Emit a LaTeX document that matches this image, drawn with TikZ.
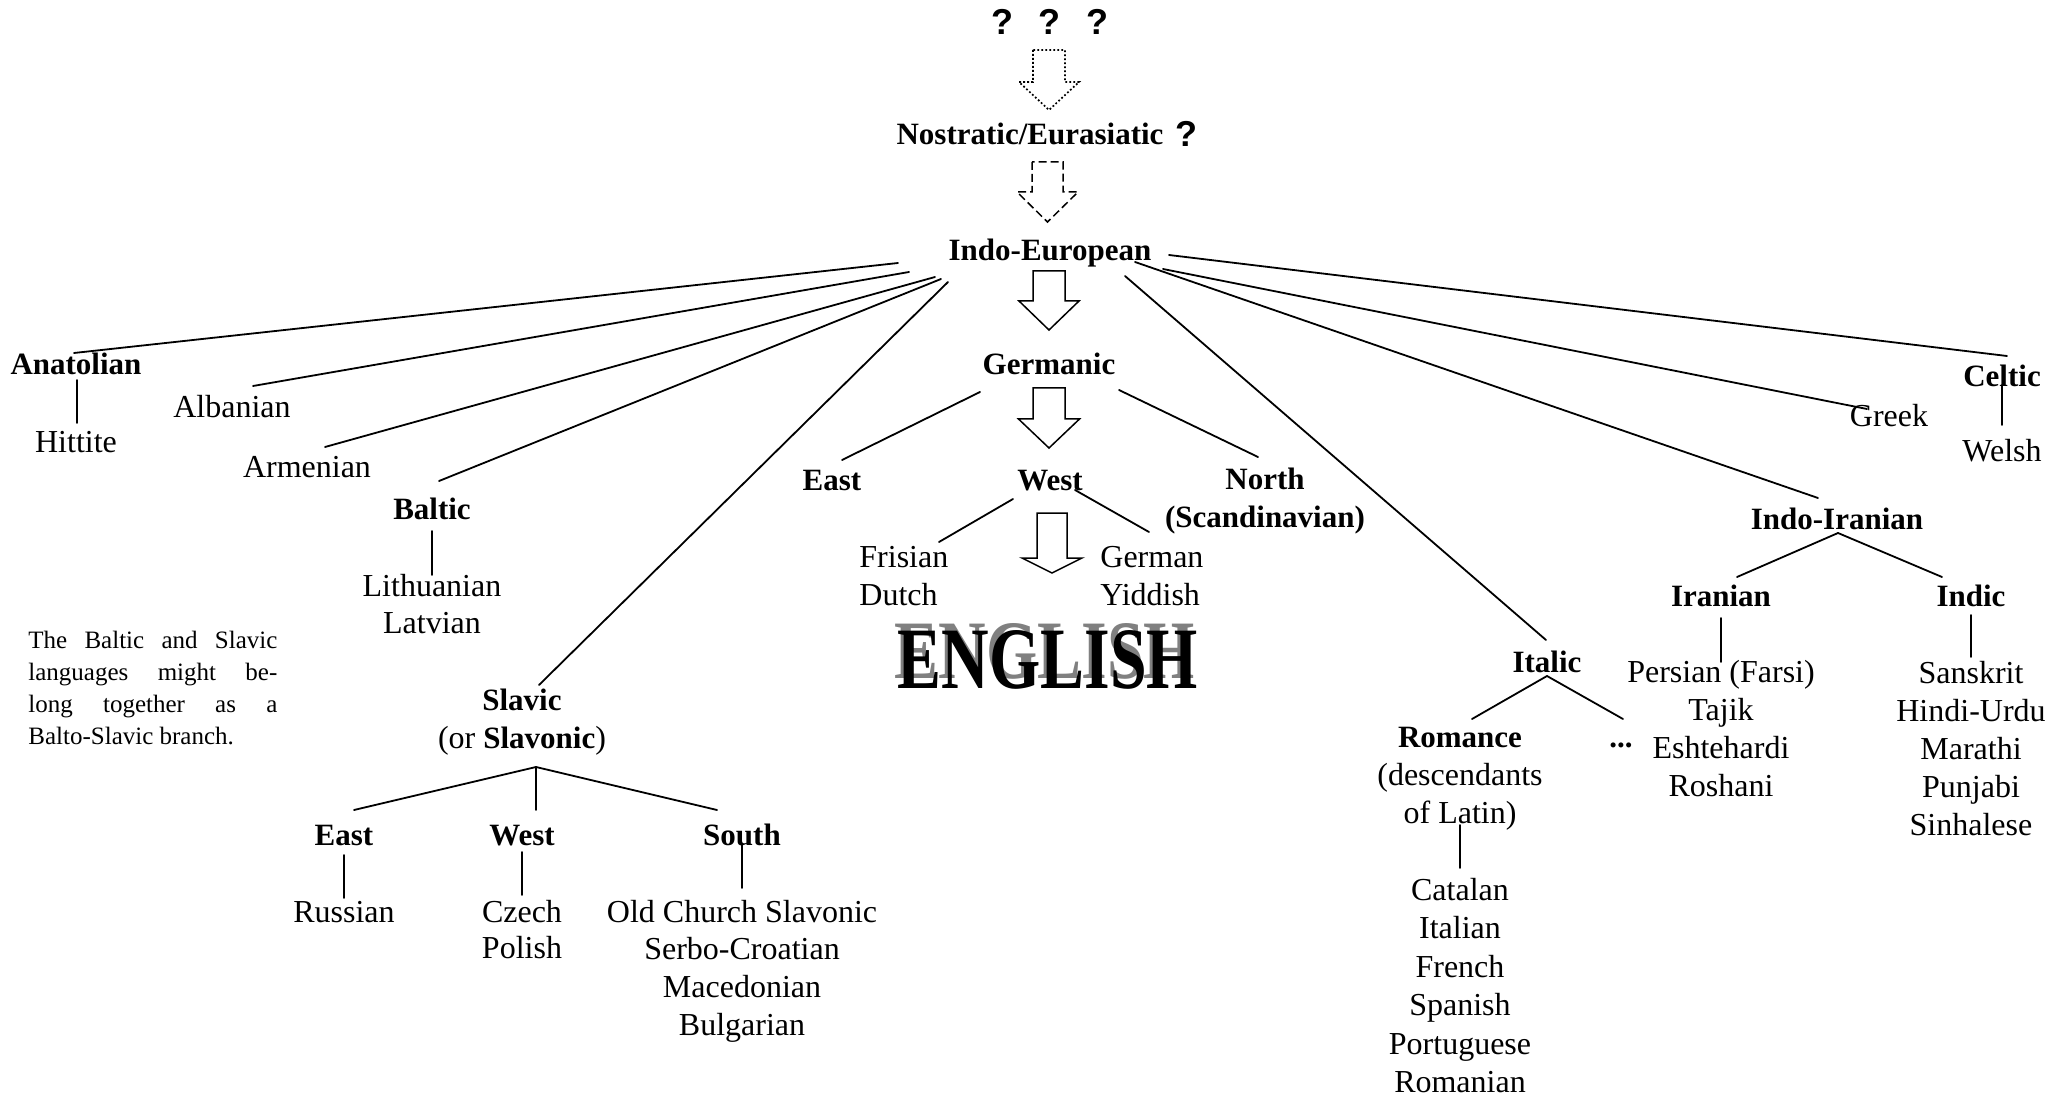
\documentclass[tikz,border=0pt]{standalone}
\usepackage{fontspec}
\setmainfont{Liberation Serif}
\newfontfamily\qfont{Liberation Sans}
\usetikzlibrary{calc}

% straight branch between two nodes, each end given as an offset from an anchor
\newcommand\branchline[6]{\draw[branch] ($(#1)+(#2,#3)$) -- ($(#4)+(#5,#6)$);}
% hollow block arrow: style, centre x, shaft top, head base, tip, half shaft, half head
\newcommand\blockarrow[7]{%
  \draw[#1] (#2-#6,#3) -- (#2-#6,#4) -- (#2-#7,#4) -- (#2,#5)
            -- (#2+#7,#4) -- (#2+#6,#4) -- (#2+#6,#3) -- cycle;}

\tikzset{
  lang/.style={anchor=base, inner sep=0pt, font=\fontsize{16}{19}\selectfont},
  langw/.style={anchor=base west, inner sep=0pt, font=\fontsize{16}{19}\selectfont},
  group/.style={anchor=base, inner sep=0pt, font=\fontsize{15.5}{18}\selectfont\bfseries},
  qmark/.style={anchor=base, inner sep=0pt, font=\qfont\fontsize{18}{20}\selectfont\bfseries},
  branch/.style={line width=0.9pt, line cap=round},
  arrowbox/.style={line width=0.75pt, fill=white, line join=miter},
  note/.style={anchor=base west, inner sep=0pt, text width=124.5pt, align=justify,
               font=\fontsize{12.5}{16}\selectfont},
}

\begin{document}
\begin{tikzpicture}[x=0.5pt, y=-0.5pt]
\path[use as bounding box, fill=white] (0,0) rectangle (2072,1096);

% ---- top of the tree ----
\node[qmark] (q1) at (1002,35) {?};
\node[qmark] (q2) at (1049,35) {?};
\node[qmark] (q3) at (1097,35) {?};
\blockarrow{arrowbox, line width=0.85pt, dash pattern=on 0.9pt off 1.1pt}{1049}{50}{82}{110}{16}{30}
\node[group] (nost) at (1030,145) {Nostratic/Eurasiatic};
\node[qmark] (nostq) at (1186,147) {?};
\blockarrow{arrowbox, dash pattern=on 4pt off 2pt}{1047.5}{162}{192}{222}{15.5}{30.5}
\node[group] (ie) at (1050,261) {Indo-European};
\blockarrow{arrowbox}{1049}{271}{301}{330}{16}{30}

% ---- Germanic ----
\node[group] (germ) at (1049,375) {Germanic};
\blockarrow{arrowbox}{1049}{388}{419}{448}{16}{30.5}
\node[group] (geast) at (832,490) {East};
\node[group] (gwest) at (1050,490) {West};
\node[group] (gnorth) at (1265,489) {North};
\node[group] (scand) at (1265,527) {(Scandinavian)};
\blockarrow{arrowbox}{1052}{513}{558}{573}{15}{30}
\node[langw] (fris) at (859,567) {Frisian};
\node[langw] (dutch) at (859,605) {Dutch};
\node[langw] (german) at (1100,567) {German};
\node[langw] (yidd) at (1100,605) {Yiddish};
\node[anchor=base, inner sep=0pt, text=black!50] (engsh) at (1045,678)
  {\resizebox{150pt}{27.5pt}{\bfseries ENGLISH}};
\node[anchor=base, inner sep=0pt] (eng) at (1048,688)
  {\resizebox{150pt}{29pt}{\bfseries ENGLISH}};

\branchline{germ.base}{-69}{17}{geast.base}{10}{-30}
\branchline{germ.base}{70}{15}{gnorth.base}{-7}{-32}
\branchline{gwest.base}{-37}{9}{fris.base west}{80}{-25}
\branchline{gwest.base}{25}{0}{german.base west}{49}{-35}

% ---- left branches ----
\node[group] (anat) at (76,375) {Anatolian};
\node[lang] (hitt) at (76,452) {Hittite};
\node[lang] (alb) at (232,418) {Albanian};
\node[lang] (arm) at (307,478) {Armenian};
\node[group] (balt) at (432,519) {Baltic};
\node[lang] (lith) at (432,596) {Lithuanian};
\node[lang] (latv) at (432,633) {Latvian};
\node[note] (bsnote) at (28,648)
  {The Baltic and Slavic\linebreak languages might be-\linebreak long together as a\linebreak Balto-Slavic branch.};

\node[group] (slav) at (522,710) {Slavic};
\node[lang] (slav2) at (522,748) {(or {\fontsize{15.5}{18}\selectfont\bfseries Slavonic})};
\node[group] (seast) at (344,845) {East};
\node[group] (swest) at (522,845) {West};
\node[group] (ssouth) at (742,845) {South};
\node[lang] (russ) at (344,922) {Russian};
\foreach \t [count=\i from 0] in {Czech, Polish}
  \node[lang] (ws-\i) at (522,922+36*\i) {\t};
\foreach \t [count=\i from 0] in {Old Church Slavonic, Serbo-Croatian, Macedonian, Bulgarian}
  \node[lang] (ss-\i) at (742,922+37.7*\i) {\t};

\branchline{ie.base}{-152}{2}{anat.base}{-2}{-22}
\branchline{ie.base}{-141}{11}{alb.base}{21}{-32}
\branchline{ie.base}{-115}{16}{arm.base}{18}{-31}
\branchline{ie.base}{-109}{18}{balt.base}{7}{-38}
\branchline{ie.base}{-102}{21}{slav.base}{17}{-25}
\branchline{anat.base}{1}{5}{hitt.base}{1}{-29}
\branchline{balt.base}{0}{12}{lith.base}{0}{-21}
\branchline{slav2.base}{14}{19}{seast.base}{10}{-35}
\branchline{slav2.base}{14}{19}{swest.base}{14}{-35}
\branchline{slav2.base}{14}{19}{ssouth.base}{-25}{-35}
\branchline{seast.base}{0}{10}{russ.base}{0}{-24}
\branchline{swest.base}{0}{7}{ws-0.base}{0}{-27}
\branchline{ssouth.base}{0}{0}{ss-0.base}{0}{-34}

% ---- right branches ----
\node[group] (ital) at (1547,672) {Italic};
\node[group] (rom) at (1460,747) {Romance};
\node[lang] (desc) at (1460,785) {(descendants};
\node[lang] (latin) at (1460,823) {of Latin)};
\node[group] (dots) at (1621,747) {...};
\foreach \t [count=\i from 0] in {Catalan, Italian, French, Spanish, Portuguese, Romanian}
  \node[lang] (rl-\i) at (1460,900+38.5*\i) {\t};

\node[lang] (greek) at (1889,427) {Greek};
\node[group] (celt) at (2002,387) {Celtic};
\node[lang] (welsh) at (2002,462) {Welsh};
\node[group] (indir) at (1837,529) {Indo-Iranian};
\node[group] (iran) at (1721,606) {Iranian};
\node[group] (indic) at (1971,606) {Indic};
\foreach \t [count=\i from 0] in {Persian (Farsi), Tajik, Eshtehardi, Roshani}
  \node[lang] (ir-\i) at (1721,682+38.3*\i) {\t};
\foreach \t [count=\i from 0] in {Sanskrit, Hindi-Urdu, Marathi, Punjabi, Sinhalese}
  \node[lang] (ic-\i) at (1971,683+38*\i) {\t};

\branchline{ie.base}{75}{15}{ital.base}{-1}{-32}
\branchline{ie.base}{85}{1}{indir.base}{-19}{-31}
\branchline{ie.base}{113}{8}{greek.base}{-22}{-18}
\branchline{ie.base}{119}{-6}{celt.base}{5}{-31}
\branchline{ital.base}{0}{4}{rom.base}{12}{-28}
\branchline{ital.base}{0}{4}{dots.base}{2}{-28}
\branchline{latin.base}{0}{2}{rl-0.base}{0}{-32}
\branchline{celt.base}{0}{-2}{welsh.base}{0}{-37}
\branchline{indir.base}{1}{4}{iran.base}{16}{-29}
\branchline{indir.base}{1}{4}{indic.base}{-29}{-29}
\branchline{iran.base}{0}{12}{ir-0.base}{0}{-20}
\branchline{indic.base}{0}{9}{ic-0.base}{0}{-26}
\end{tikzpicture}
\end{document}
